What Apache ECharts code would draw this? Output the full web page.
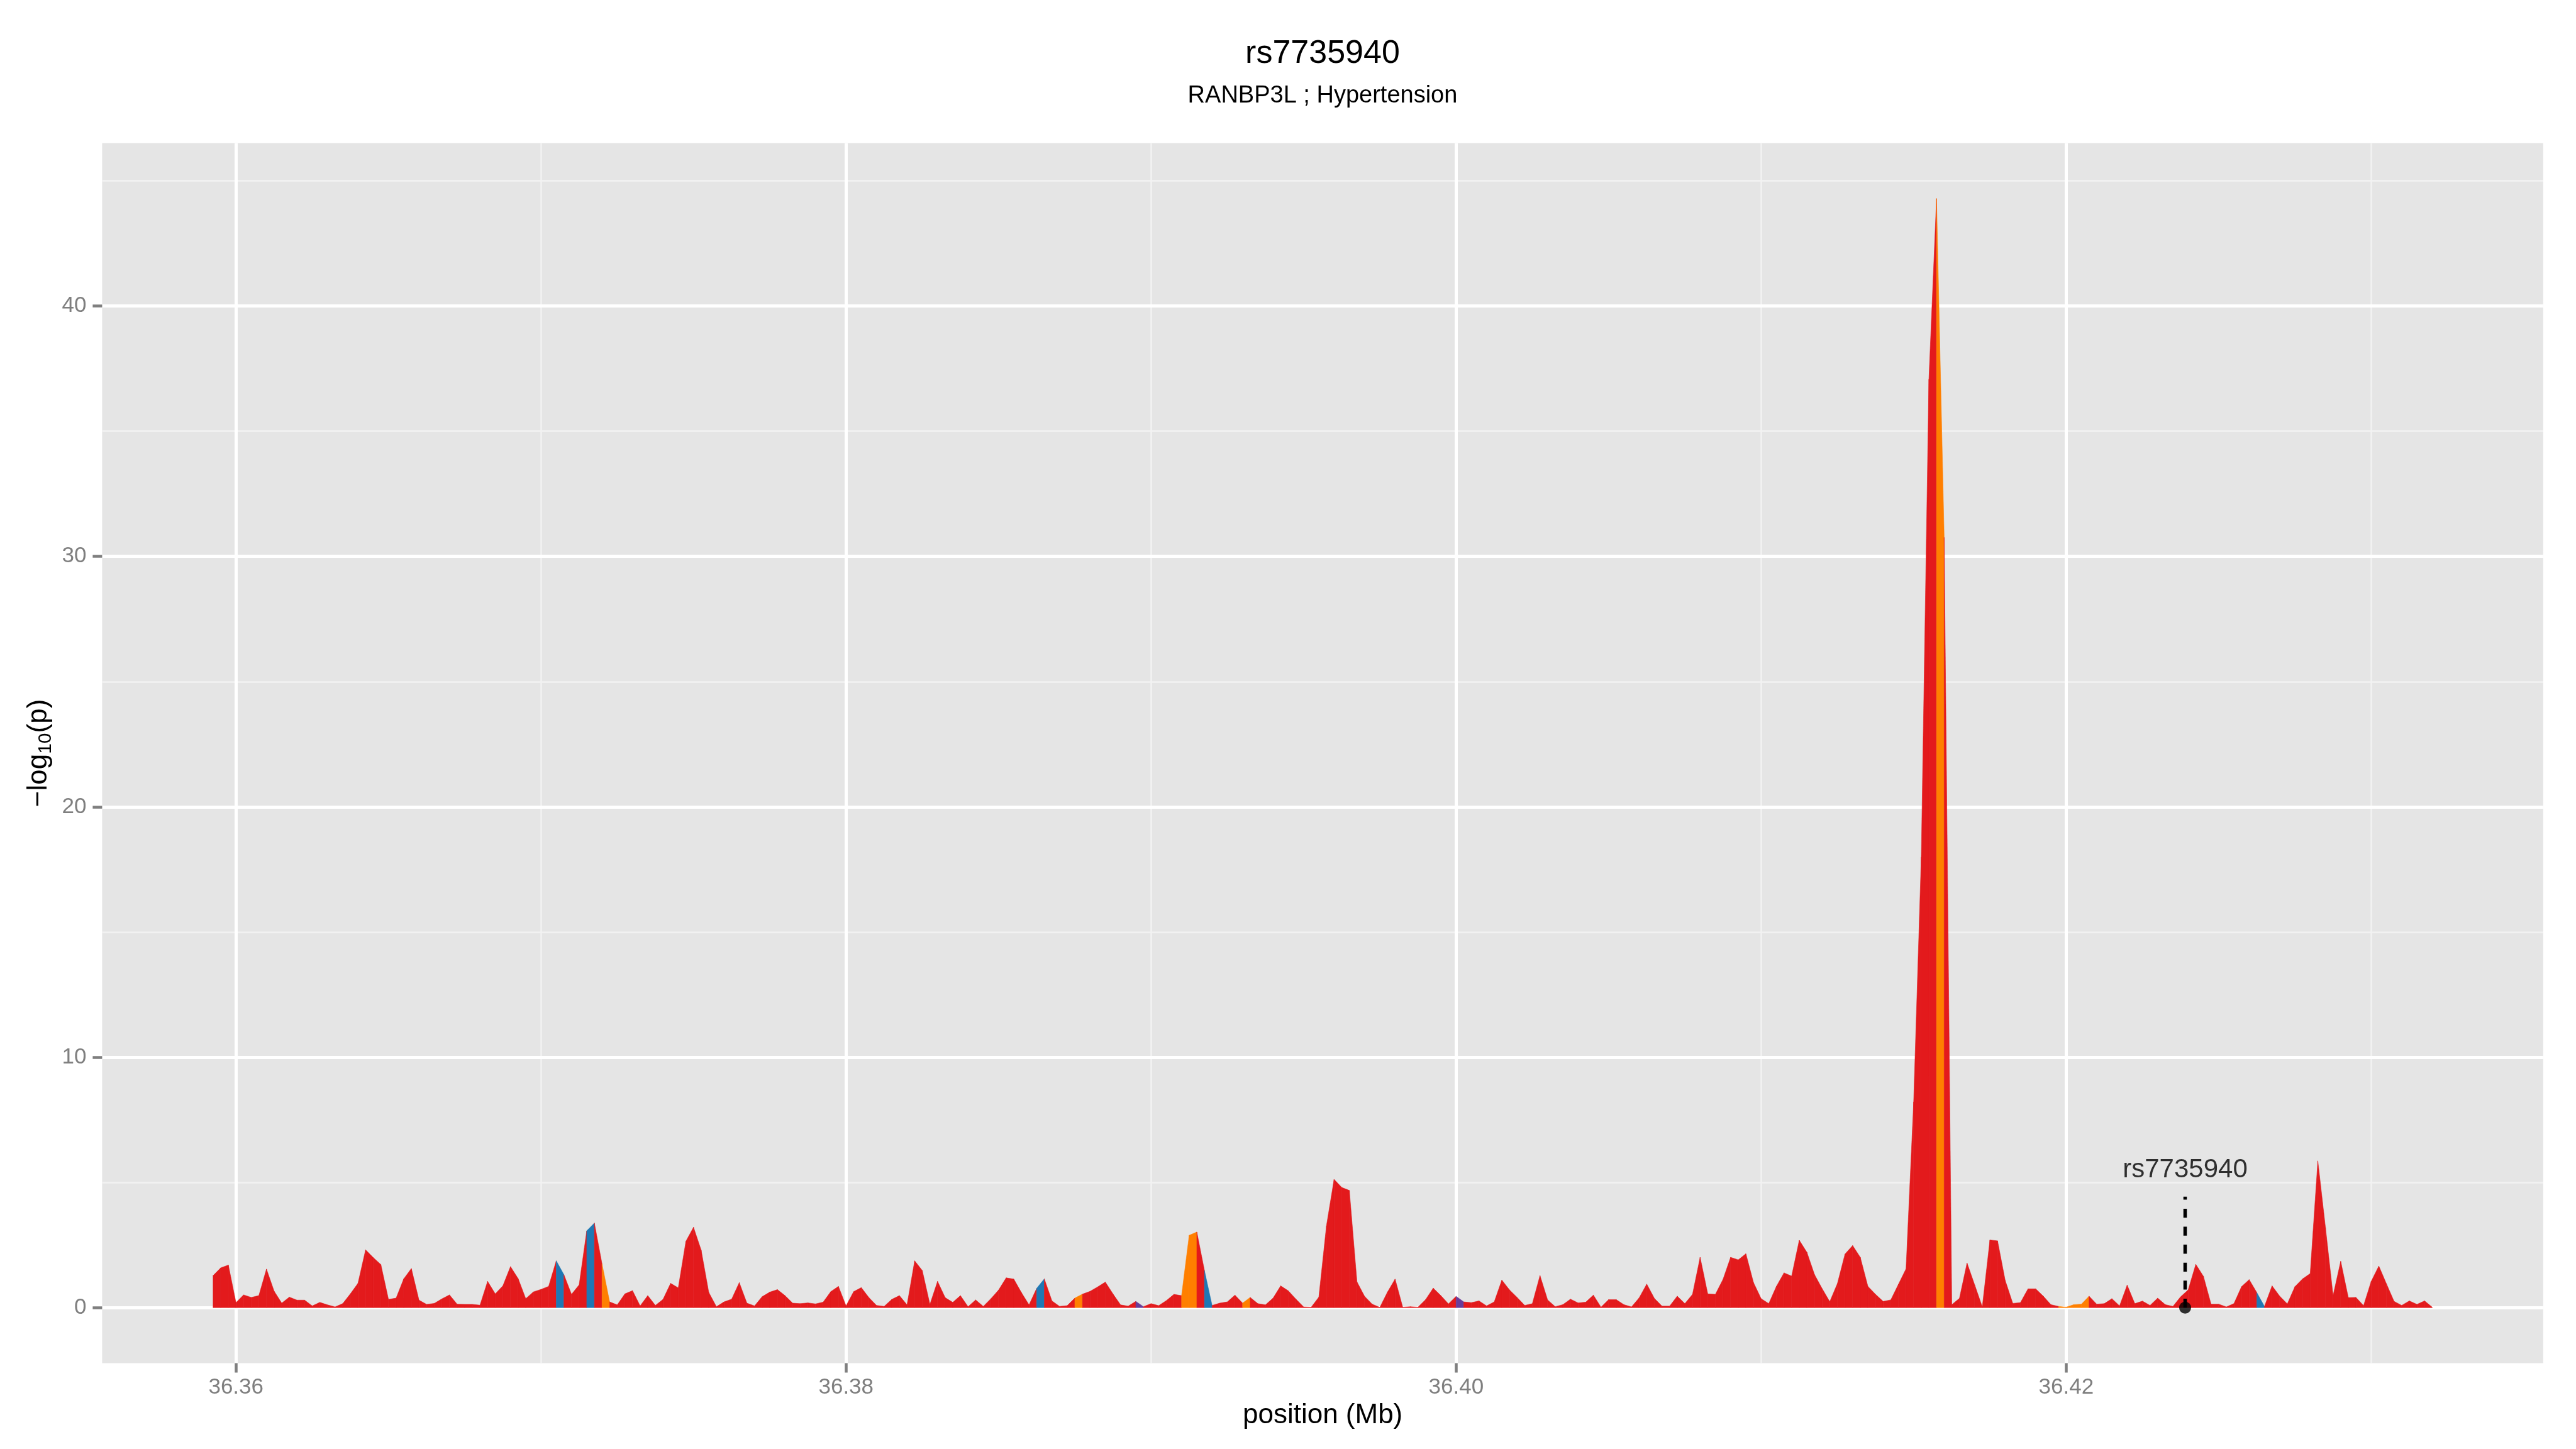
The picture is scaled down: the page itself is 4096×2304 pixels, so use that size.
<!DOCTYPE html>
<html>
<head>
<meta charset="utf-8">
<script src="https://cdn.jsdelivr.net/npm/echarts@6/dist/echarts.min.js"></script>
<style>
html,body{margin:0;padding:0;background:#ffffff;}
#c{width:4096px;height:2304px;}
</style>
</head>
<body>
<div id="c"></div>
<script>
// ---- data ----
const titleText = 'rs7735940';
const subtitleText = 'RANBP3L ; Hypertension';
const xAxisTitle = 'position (Mb)';

// SNP positions (Mb)
const positions = [
36.35925, 36.3595, 36.35975,
36.36, 36.36025, 36.3605, 36.36075,
36.361, 36.36125, 36.3615, 36.36175,
36.362, 36.36225, 36.3625, 36.36275,
36.363, 36.36325, 36.3635, 36.36375,
36.364, 36.36425, 36.3645, 36.36475,
36.365, 36.36525, 36.3655, 36.36575,
36.366, 36.36625, 36.3665, 36.36675,
36.367, 36.36725, 36.3675, 36.36775,
36.368, 36.36825, 36.3685, 36.36875,
36.369, 36.36925, 36.3695, 36.36975,
36.37, 36.37025, 36.3705, 36.37075,
36.371, 36.37125, 36.3715, 36.37175,
36.372, 36.37225, 36.3725, 36.37275,
36.373, 36.37325, 36.3735, 36.37375,
36.374, 36.37425, 36.3745, 36.37475,
36.375, 36.37525, 36.3755, 36.37575,
36.376, 36.37625, 36.3765, 36.37675,
36.377, 36.37725, 36.3775, 36.37775,
36.378, 36.37825, 36.3785, 36.37875,
36.379, 36.37925, 36.3795, 36.37975,
36.38, 36.38025, 36.3805, 36.38075,
36.381, 36.38125, 36.3815, 36.38175,
36.382, 36.38225, 36.3825, 36.38275,
36.383, 36.38325, 36.3835, 36.38375,
36.384, 36.38425, 36.3845, 36.38475,
36.385, 36.38525, 36.3855, 36.38575,
36.386, 36.38625, 36.3865, 36.38675,
36.387, 36.38725, 36.3875, 36.38775,
36.388, 36.38825, 36.3885, 36.38875,
36.389, 36.38925, 36.3895, 36.38975,
36.39, 36.39025, 36.3905, 36.39075,
36.391, 36.39125, 36.3915, 36.39175,
36.392, 36.39225, 36.3925, 36.39275,
36.393, 36.39325, 36.3935, 36.39375,
36.394, 36.39425, 36.3945, 36.39475,
36.395, 36.39525, 36.3955, 36.39575,
36.396, 36.39625, 36.3965, 36.39675,
36.397, 36.39725, 36.3975, 36.39775,
36.398, 36.39825, 36.3985, 36.39875,
36.399, 36.39925, 36.3995, 36.39975,
36.4, 36.40025, 36.4005, 36.40075,
36.401, 36.40125, 36.4015, 36.40175,
36.402, 36.40225, 36.4025, 36.40275,
36.403, 36.40325, 36.4035, 36.40375,
36.404, 36.40425, 36.4045, 36.40475,
36.405, 36.40525, 36.4055, 36.40575,
36.406, 36.40625, 36.4065, 36.40675,
36.407, 36.40725, 36.4075, 36.40775,
36.408, 36.40825, 36.4085, 36.40875,
36.409, 36.40925, 36.4095, 36.40975,
36.41, 36.41025, 36.4105, 36.41075,
36.411, 36.41125, 36.4115, 36.41175,
36.412, 36.41225, 36.4125, 36.41275,
36.413, 36.41325, 36.4135, 36.41375,
36.414, 36.41425, 36.4145, 36.41475,
36.415, 36.41525, 36.4155, 36.41575,
36.416, 36.41625, 36.4165, 36.41675,
36.417, 36.41725, 36.4175, 36.41775,
36.418, 36.41825, 36.4185, 36.41875,
36.419, 36.41925, 36.4195, 36.41975,
36.42, 36.42025, 36.4205, 36.42075,
36.421, 36.42125, 36.4215, 36.42175,
36.422, 36.42225, 36.4225, 36.42275,
36.423, 36.42325, 36.4235, 36.42375,
36.424, 36.42425, 36.4245, 36.42475,
36.425, 36.42525, 36.4255, 36.42575,
36.426, 36.42625, 36.4265, 36.42675,
36.427, 36.42725, 36.4275, 36.42775,
36.428, 36.42825, 36.4285, 36.42875,
36.429, 36.42925, 36.4295, 36.42975,
36.43, 36.43025, 36.4305, 36.43075,
36.431, 36.43125, 36.4315, 36.43175,
36.432
];

// -log10(p) at each position
const logP = [
1.28, 1.59, 1.70,
0.20, 0.51, 0.41, 0.48,
1.54, 0.66, 0.18, 0.42,
0.30, 0.30, 0.07, 0.21,
0.11, 0.03, 0.16, 0.55,
0.97, 2.31, 2.00, 1.72,
0.33, 0.38, 1.15, 1.56,
0.30, 0.13, 0.17, 0.35,
0.51, 0.14, 0.13, 0.13,
0.10, 1.05, 0.55, 0.87,
1.64, 1.16, 0.36, 0.63,
0.73, 0.85, 1.87, 1.32,
0.53, 0.91, 3.07, 3.38,
1.75, 0.23, 0.11, 0.55,
0.68, 0.07, 0.48, 0.09,
0.33, 0.97, 0.79, 2.65,
3.21, 2.30, 0.61, 0.04,
0.23, 0.34, 1.00, 0.18,
0.07, 0.44, 0.62, 0.72,
0.48, 0.18, 0.16, 0.19,
0.15, 0.22, 0.64, 0.85,
0.07, 0.64, 0.80, 0.40,
0.09, 0.05, 0.33, 0.48,
0.11, 1.87, 1.48, 0.13,
1.05, 0.40, 0.21, 0.48,
0.04, 0.31, 0.05, 0.36,
0.70, 1.19, 1.14, 0.60,
0.11, 0.77, 1.15, 0.27,
0.05, 0.08, 0.38, 0.54,
0.65, 0.83, 1.02, 0.55,
0.11, 0.06, 0.25, 0.04,
0.16, 0.08, 0.28, 0.53,
0.48, 2.89, 3.02, 1.48,
0.09, 0.18, 0.23, 0.50,
0.18, 0.41, 0.16, 0.11,
0.38, 0.87, 0.67, 0.34,
0.03, 0.02, 0.42, 3.27,
5.12, 4.80, 4.68, 1.03,
0.45, 0.14, 0.01, 0.62,
1.14, 0.02, 0.04, 0.02,
0.32, 0.78, 0.48, 0.15,
0.45, 0.23, 0.20, 0.27,
0.07, 0.23, 1.10, 0.71,
0.41, 0.09, 0.16, 1.28,
0.31, 0.04, 0.12, 0.34,
0.19, 0.22, 0.50, 0.02,
0.32, 0.32, 0.12, 0.03,
0.39, 0.94, 0.37, 0.06,
0.06, 0.46, 0.16, 0.53,
2.01, 0.55, 0.53, 1.13,
2.01, 1.91, 2.15, 1.00,
0.36, 0.16, 0.85, 1.39,
1.26, 2.69, 2.21, 1.32,
0.76, 0.24, 0.96, 2.14,
2.48, 2.01, 0.85, 0.53,
0.25, 0.31, 0.93, 1.55,
8.22, 17.99, 37.07, 44.29,
30.76, 0.12, 0.37, 1.78,
0.91, 0.03, 2.70, 2.67,
1.09, 0.17, 0.20, 0.75,
0.75, 0.46, 0.12, 0.05,
0.02, 0.12, 0.14, 0.46,
0.14, 0.16, 0.36, 0.07,
0.90, 0.16, 0.26, 0.09,
0.38, 0.12, 0.05, 0.43,
0.71, 1.73, 1.25, 0.14,
0.14, 0.03, 0.16, 0.84,
1.12, 0.60, 0.05, 0.87,
0.46, 0.15, 0.84, 1.15,
1.36, 5.86, 3.20, 0.48,
1.85, 0.40, 0.41, 0.08,
1.05, 1.66, 0.95, 0.25,
0.09, 0.27, 0.13, 0.27,
0.02
];

// intervals (between point i and i+1) drawn in a non-red class
const blueSegments = [45, 49, 108, 130, 268];
const orangeSegments = [51, 113, 127, 128, 135, 226, 242, 243, 244, 245];
const purpleSegments = [121, 163];

// axis ticks
const xTicks = [36.36, 36.38, 36.40, 36.42];
const xMinorTicks = [36.37, 36.39, 36.41, 36.43];
const yTicks = [0, 10, 20, 30, 40];
const yMinorTicks = [5, 15, 25, 35, 45];

// highlighted SNP
const snpName = 'rs7735940';
const snpPos = 36.4239;
const snpValue = 0;
const snpLineTop = 4.43;
const snpLabelY = 5.49;

// ---- styling ----
const FONT = '"Liberation Sans", Arial, Helvetica, sans-serif';
const classColors = ['#E31A1C', '#1F78B4', '#FF7F00', '#6A3D9A'];

// ---- build ----
const segClass = [];
for (let i = 0; i < positions.length - 1; i++) segClass.push(0);
blueSegments.forEach(i => segClass[i] = 1);
orangeSegments.forEach(i => segClass[i] = 2);
purpleSegments.forEach(i => segClass[i] = 3);

const segData = [];
for (let i = 0; i < positions.length - 1; i++) {
  segData.push([positions[i], logP[i], positions[i + 1], logP[i + 1], segClass[i]]);
}

// ggplot-style 5% expansion
const xLo = Math.min.apply(null, positions), xHi = Math.max.apply(null, positions);
const yLo = 0, yHi = Math.max.apply(null, logP);
const xMin = xLo - 0.05 * (xHi - xLo), xMax = xHi + 0.05 * (xHi - xLo);
const yMin = yLo - 0.05 * (yHi - yLo), yMax = yHi + 0.05 * (yHi - yLo);

const chart = echarts.init(document.getElementById('c'), null, {renderer: 'canvas', width: 4096, height: 2304});

const option = {
  animation: false,
  backgroundColor: '#ffffff',
  title: [
    {text: titleText, left: 2103, top: 86, textAlign: 'center', textVerticalAlign: 'middle', padding: 0,
     textStyle: {fontFamily: FONT, fontSize: 52, fontWeight: 'normal', color: '#000000'}},
    {text: subtitleText, left: 2103, top: 153, textAlign: 'center', textVerticalAlign: 'middle', padding: 0,
     textStyle: {fontFamily: FONT, fontSize: 38, fontWeight: 'normal', color: '#000000'}}
  ],
  grid: {left: 162.4, right: 52.2, top: 227.5, bottom: 136.6, show: true, backgroundColor: '#E5E5E5', borderWidth: 0, containLabel: false},
  xAxis: [
    {
      type: 'value', min: xMin, max: xMax, z: 3, position: 'bottom',
      axisLine: {show: false, onZero: false},
      axisTick: {show: true, length: 15, customValues: xTicks, lineStyle: {color: '#7F7F7F', width: 4.5}},
      axisLabel: {show: true, customValues: xTicks, formatter: v => Number(v).toFixed(2), color: '#7F7F7F',
                  fontFamily: FONT, fontSize: 35, margin: 39, verticalAlign: 'middle'},
      splitLine: {show: true, lineStyle: {color: '#FFFFFF', width: 5}},
      name: xAxisTitle, nameLocation: 'middle', nameGap: 81,
      nameTextStyle: {fontFamily: FONT, fontSize: 44, color: '#000000', verticalAlign: 'middle'}
    },
    {
      type: 'value', min: xMin, max: xMax, z: 2, position: 'bottom',
      axisLine: {show: false, onZero: false},
      axisTick: {show: false, customValues: xMinorTicks},
      axisLabel: {show: false, customValues: xMinorTicks},
      splitLine: {show: true, lineStyle: {color: '#F2F2F2', width: 2.5}}
    }
  ],
  yAxis: [
    {
      type: 'value', min: yMin, max: yMax, z: 3, position: 'left',
      axisLine: {show: false, onZero: false},
      axisTick: {show: true, length: 15, customValues: yTicks, lineStyle: {color: '#7F7F7F', width: 4.5}},
      axisLabel: {show: true, customValues: yTicks, formatter: v => String(Math.round(v)), color: '#7F7F7F',
                  fontFamily: FONT, fontSize: 35, margin: 25},
      splitLine: {show: true, lineStyle: {color: '#FFFFFF', width: 5}},
      name: '{a|\u2212log}{s|10}{a|(p)}', nameLocation: 'middle', nameGap: 100, nameRotate: 90,
      nameTextStyle: {
        verticalAlign: 'middle',
        rich: {
          a: {fontFamily: FONT, fontSize: 44, color: '#000000', lineHeight: 52},
          s: {fontFamily: FONT, fontSize: 30, color: '#000000', lineHeight: 30, verticalAlign: 'bottom'}
        }
      }
    },
    {
      type: 'value', min: yMin, max: yMax, z: 2, position: 'left',
      axisLine: {show: false, onZero: false},
      axisTick: {show: false, customValues: yMinorTicks},
      axisLabel: {show: false, customValues: yMinorTicks},
      splitLine: {show: true, lineStyle: {color: '#F2F2F2', width: 2.5}}
    }
  ],
  series: [
    {
      type: 'custom', xAxisIndex: 0, yAxisIndex: 0, z: 5, clip: true, silent: true,
      encode: {x: [0, 2], y: [1, 3]},
      data: segData,
      renderItem: function (params, api) {
        const x0 = api.value(0), y0 = api.value(1), x1 = api.value(2), y1 = api.value(3);
        const col = classColors[api.value(4)];
        const pts = [api.coord([x0, 0]), api.coord([x0, y0]), api.coord([x1, y1]), api.coord([x1, 0])];
        return {type: 'polygon', shape: {points: pts}, style: {fill: col, stroke: col, lineWidth: 0.6}};
      }
    },
    {
      type: 'line', xAxisIndex: 0, yAxisIndex: 0, z: 6, silent: true,
      data: [[snpPos, snpValue], [snpPos, snpLineTop]],
      showSymbol: false, symbol: 'none',
      lineStyle: {color: '#000000', width: 5.5, type: [14.3, 14.3], cap: 'butt'}
    },
    {
      type: 'scatter', xAxisIndex: 0, yAxisIndex: 0, z: 7, silent: true,
      data: [[snpPos, snpValue]],
      symbol: 'circle', symbolSize: 19,
      itemStyle: {color: '#000000'}
    },
    {
      type: 'scatter', xAxisIndex: 0, yAxisIndex: 0, z: 7, silent: true,
      data: [[snpPos, snpLabelY]],
      symbol: 'circle', symbolSize: 1,
      itemStyle: {color: 'rgba(0,0,0,0)'},
      label: {show: true, position: 'inside', formatter: snpName, color: '#000000', fontFamily: FONT, fontSize: 42}
    }
  ]
};
chart.setOption(option);
</script>
</body>
</html>
